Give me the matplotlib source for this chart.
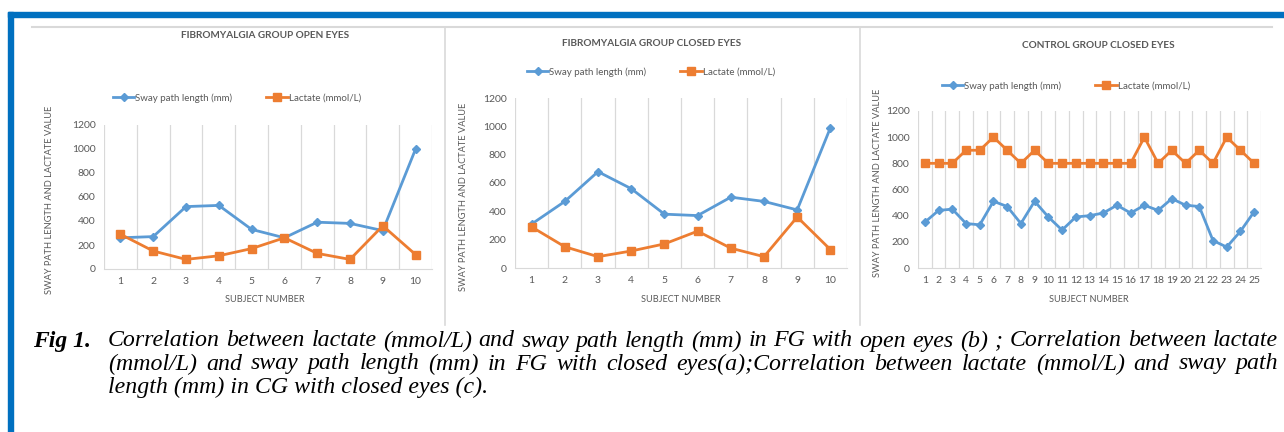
import numpy as np
import matplotlib.pyplot as plt
from matplotlib.patches import Rectangle
from matplotlib.lines import Line2D

# ---- data ------------------------------------------------------------------
fg_open_subjects = list(range(1, 11))
fg_open_sway = [260, 270, 520, 530, 330, 260, 390, 380, 320, 1000]
fg_open_lactate = [290, 150, 80, 110, 170, 260, 130, 80, 360, 120]

fg_closed_subjects = list(range(1, 11))
fg_closed_sway = [310, 470, 680, 560, 380, 370, 500, 470, 410, 990]
fg_closed_lactate = [290, 150, 80, 120, 170, 260, 140, 80, 360, 130]

cg_closed_subjects = list(range(1, 26))
cg_closed_sway = [350, 440, 450, 340, 330, 510, 470, 340, 510, 390,
                  290, 390, 400, 420, 480, 420, 480, 440, 530, 480,
                  470, 210, 160, 280, 430]
cg_closed_lactate = [800, 800, 800, 900, 900, 1000, 900, 800, 900, 800,
                     800, 800, 800, 800, 800, 800, 1000, 800, 900, 800,
                     900, 800, 1000, 900, 800]

titles = ["FIBROMYALGIA GROUP OPEN EYES", "FIBROMYALGIA GROUP CLOSED EYES",
          "CONTROL GROUP CLOSED EYES"]
caption_lines = [
    "Correlation between lactate (mmol/L) and sway path length (mm) in FG with open eyes (b) ; Correlation between lactate",
    "(mmol/L) and sway path length (mm) in FG with closed eyes(a);Correlation between lactate (mmol/L) and sway path",
    "length (mm) in CG with closed eyes (c).",
]

BLUE = "#5B9BD5"
ORANGE = "#ED7D31"
GREY_TXT = "#595959"
GRID = "#D9D9D9"
W, H = 1284, 432
FONT = "Lato"


def fx(px):
    return px / W


def fy(py):
    return 1 - py / H


fig = plt.figure(figsize=(W / 100, H / 100), dpi=100)

# blue frame and grey panel borders
fig.patches.append(Rectangle((fx(8), fy(17)), 1, fy(12) - fy(17),
                             transform=fig.transFigure, color="#0070C0"))
fig.patches.append(Rectangle((fx(8), 0), fx(5), fy(12),
                             transform=fig.transFigure, color="#0070C0"))
fig.add_artist(Line2D([fx(32), fx(1272)], [fy(27), fy(27)], color=GRID, lw=1.5))
for xv in (445, 860):
    fig.add_artist(Line2D([fx(xv), fx(xv)], [fy(27), fy(325)], color=GRID, lw=1.2))

# panel geometry in pixels of the reference
panels = [
    dict(x=fg_open_subjects, sway=fg_open_sway, lac=fg_open_lactate,
         box=(104, 432, 269, 125), title=(265, 35), leg=(237, 98),
         ylab=(50, 200), xlab=265),
    dict(x=fg_closed_subjects, sway=fg_closed_sway, lac=fg_closed_lactate,
         box=(515, 847, 268, 98), title=(652, 44), leg=(651, 72),
         ylab=(464, 197), xlab=681),
    dict(x=cg_closed_subjects, sway=cg_closed_sway, lac=cg_closed_lactate,
         box=(918, 1261, 268, 111), title=(1098, 45), leg=(1066, 86),
         ylab=(878, 183), xlab=1089),
]

for title, p in zip(titles, panels):
    l, r, y0, y1 = p["box"]
    ax = fig.add_axes([fx(l), fy(y0), fx(r - l), fy(y1) - fy(y0)])
    n = len(p["x"])
    ax.plot(p["x"], p["sway"], color=BLUE, lw=2, marker="D", ms=4.5,
            label="Sway path length (mm)")
    ax.plot(p["x"], p["lac"], color=ORANGE, lw=2, marker="s", ms=6,
            label="Lactate (mmol/L)")
    ax.set_xlim(0.5, n + 0.5)
    ax.set_ylim(0, 1200)
    ax.set_xticks(p["x"])
    ax.set_yticks(range(0, 1201, 200))
    for xv in np.arange(0.5, n + 1, 1):
        ax.axvline(xv, color=GRID, lw=0.9, zorder=0)
    for s in ("top", "right", "left"):
        ax.spines[s].set_visible(False)
    ax.spines["bottom"].set_color(GRID)
    ax.tick_params(length=0, labelsize=7.5, labelcolor=GREY_TXT, pad=6)
    for t in ax.get_xticklabels() + ax.get_yticklabels():
        t.set_fontfamily(FONT)

    tx, ty = p["title"]
    fig.text(fx(tx), fy(ty), title, ha="center", va="center", fontsize=7.2,
             fontweight="bold", color=GREY_TXT, family=FONT)
    lx, ly = p["leg"]
    fig.legend(*ax.get_legend_handles_labels(), loc="center",
               bbox_to_anchor=(fx(lx), fy(ly)), ncol=2, frameon=False,
               prop=dict(family=FONT, size=7), labelcolor=GREY_TXT,
               handlelength=2.2, handletextpad=0.1, columnspacing=3.5)
    yx, yc = p["ylab"]
    fig.text(fx(yx), fy(yc), "SWAY PATH LENGTH AND LACTATE VALUE", rotation=90,
             ha="center", va="center", fontsize=6.7, color=GREY_TXT, family=FONT)
    fig.text(fx(p["xlab"]), fy(300), "SUBJECT NUMBER", ha="center", va="center",
             fontsize=6.6, color=GREY_TXT, family=FONT)

# caption, first two lines justified like the source
cap_kw = dict(ha="left", va="center", fontsize=17.2, style="italic",
              family="Liberation Serif")
fig.text(fx(33), fy(341), "Fig 1.", ha="left", va="center", fontsize=17,
         fontweight="bold", style="italic", family="Liberation Serif")
renderer = fig.canvas.get_renderer()
for i, line in enumerate(caption_lines):
    y = fy(341 + 23 * i)
    if i == len(caption_lines) - 1:
        fig.text(fx(108), y, line, **cap_kw)
        continue
    words = line.split(" ")
    texts = [fig.text(0, y, w, **cap_kw) for w in words]
    widths = [t.get_window_extent(renderer).width for t in texts]
    gap = (1278 - 108 - sum(widths)) / (len(words) - 1)
    x = 108
    for t, w in zip(texts, widths):
        t.set_x(fx(x))
        x += w + gap

fig.savefig("out.png", dpi=100, facecolor="white")
